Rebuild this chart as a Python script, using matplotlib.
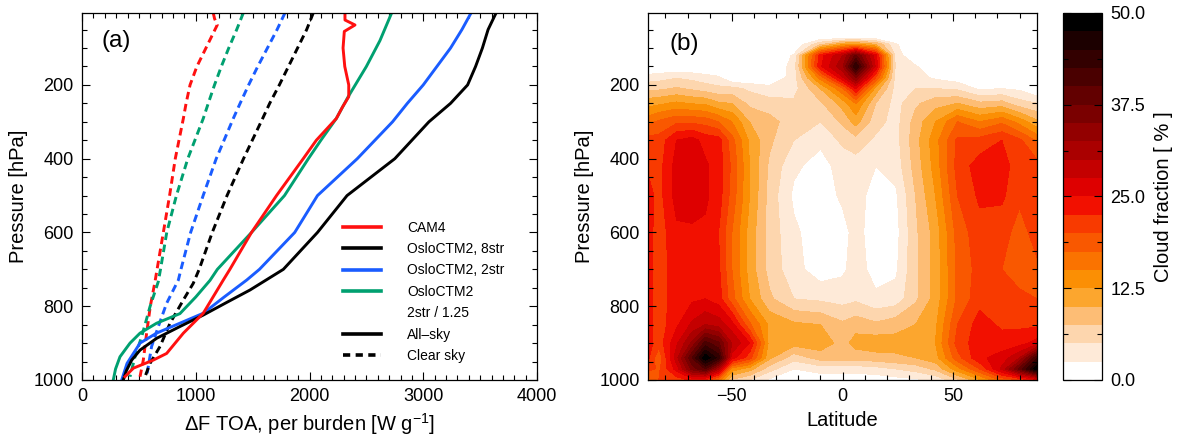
import numpy as np
import matplotlib.pyplot as plt
from matplotlib.lines import Line2D
from matplotlib.ticker import MultipleLocator, FixedLocator, FormatStrFormatter

plt.rcParams['font.family'] = ['Liberation Sans', 'DejaVu Sans']
plt.rcParams['mathtext.fontset'] = 'custom'
plt.rcParams['mathtext.rm'] = 'Liberation Sans'
plt.rcParams['mathtext.it'] = 'Liberation Sans:italic'

# --- panel (a): forcing per burden profiles [W g-1] vs pressure [hPa] ---
p_cam4_all = [5, 24, 37.5, 55, 100, 150, 200, 232, 260, 291, 350, 400, 500, 600, 700, 729, 819, 873, 928, 946, 968, 991]
x_cam4_all = [2312, 2312, 2400, 2306, 2295, 2310, 2345, 2345, 2290, 2236, 2060, 1945, 1710, 1490, 1300, 1242, 1066, 891, 744, 627, 451, 378]

p_8str_all = [5, 50, 100, 150, 200, 250, 300, 400, 500, 600, 700, 756, 790, 824, 855, 887, 919, 946, 975, 1000]
x_8str_all = [3640, 3570, 3520, 3460, 3390, 3240, 3050, 2750, 2330, 2070, 1770, 1477, 1270, 1066, 861, 656, 510, 437, 390, 363]

p_2str_all = [5, 50, 100, 150, 200, 250, 300, 400, 500, 600, 700, 729, 775, 819, 842, 873, 900, 955, 1000]
x_2str_all = [3420, 3340, 3240, 3120, 3000, 2860, 2730, 2420, 2070, 1870, 1560, 1448, 1250, 1066, 891, 655, 510, 396, 349]

p_2str125_all = [5, 80, 150, 232, 291, 350, 400, 500, 600, 700, 730, 775, 820, 846, 873, 900, 937, 970, 1000]
x_2str125_all = [2722, 2619, 2500, 2340, 2236, 2100, 1990, 1780, 1490, 1190, 1125, 1000, 861, 656, 510, 422, 334, 295, 275]

p_cam4_clr = [5, 20, 37.5, 96, 150, 200, 250, 291, 400, 500, 600, 700, 733, 801, 873, 946, 991]
x_cam4_clr = [1154, 1165, 1189, 1096, 1010, 950, 915, 891, 820, 770, 715, 660, 642, 600, 568, 539, 510]

p_8str_clr = [5, 50, 100, 150, 200, 250, 291, 400, 500, 600, 700, 738, 783, 846, 909, 955, 991]
x_8str_clr = [2033, 1975, 1895, 1815, 1735, 1650, 1588, 1420, 1275, 1145, 1030, 978, 891, 774, 686, 598, 554]

p_2str_clr = [5, 50, 100, 150, 200, 250, 291, 400, 500, 600, 700, 729, 792, 855, 909, 991]
x_2str_clr = [1784, 1715, 1630, 1545, 1465, 1390, 1330, 1180, 1065, 955, 870, 847, 744, 671, 612, 568]

p_2str125_clr = [5, 50, 100, 150, 200, 250, 291, 400, 500, 600, 700, 733, 801, 882, 937, 991]
x_2str125_clr = [1418, 1360, 1290, 1225, 1165, 1110, 1066, 930, 830, 745, 690, 671, 598, 525, 466, 422]

legend_labels = ['CAM4', 'OsloCTM2, 8str', 'OsloCTM2, 2str', 'OsloCTM2', '2str / 1.25', 'All\u2012sky', 'Clear sky']

# --- panel (b): zonal mean cloud fraction [%] ---
lat_grid = [-87.9, -83, -75, -68, -62, -56, -50, -42, -33, -22, -10, 0, 6, 15, 24, 33, 42, 52, 62, 72, 80, 87.9]
p_grid = [5, 70, 90, 120, 150, 180, 210, 250, 300, 350, 420, 500, 600, 700, 780, 850, 900, 940, 970, 1000]
# one row per latitude, values at p_grid levels
cloud_by_lat = [
    [0, 0, 0, 0, 0, 3.5, 7, 11.5, 16.5, 21, 22, 23.7, 23.7, 23.7, 23.7, 23.7, 23.7, 23, 21, 16],
    [0, 0, 0, 0, 0, 4, 7, 12, 18, 21, 21.5, 21.5, 21, 21, 21, 21, 21, 18, 19.5, 20],
    [0, 0, 0, 0, 0, 4.8, 7.8, 13, 19.5, 25, 26, 26, 24.5, 24, 24, 24.5, 27, 29, 26, 21],
    [0, 0, 0, 0, 0, 4.3, 7, 12.3, 19.5, 26, 26.5, 26.5, 24.5, 24, 24.5, 28, 33, 40, 36, 23],
    [0, 0, 0, 0, 0, 3.5, 6.3, 12, 19, 24, 25.5, 25.5, 24.5, 24, 25, 30, 41, 49.5, 40, 22],
    [0, 0, 0, 0, 0, 2.8, 5.7, 10.3, 17.5, 23.7, 23.7, 23.7, 22.5, 23, 23.7, 29, 38, 44, 30, 16],
    [0, 0, 0, 0, 0, 0, 5.8, 10, 15, 18.5, 19.5, 19, 17.5, 17.5, 18.5, 26, 30, 26, 14, 7],
    [0, 0, 0, 0, 0, 0, 4.5, 6.8, 10, 12, 12.5, 12.5, 11.5, 11.5, 12.5, 18, 25, 21, 11, 5],
    [0, 0, 0, 0, 0, 0, 3.5, 6, 8.5, 8, 7, 6.5, 6.5, 6.5, 8, 12, 11.5, 10.5, 6, 2],
    [0, 0, 0, 2.8, 3.5, 3.7, 4, 5.5, 6, 5, 3, 2, 3, 3.5, 5, 10.5, 11, 6, 2.5, 0.5],
    [0, 0, 7, 24, 24.5, 16, 10, 7, 5, 3, 1.5, 1, 1, 1, 4.5, 10, 11.5, 8.5, 3.5, 1],
    [0, 0, 12, 30, 32, 27, 17, 11, 8, 5.5, 3.5, 3, 1.5, 2, 4, 8, 9, 8.5, 3.5, 1],
    [0, 0, 13, 38, 45, 35, 25, 15, 11, 6.5, 3.7, 3.5, 3.5, 3.7, 4.5, 9, 11, 8.5, 3.5, 1],
    [0, 0, 10, 26, 27, 20, 11.5, 7.5, 6, 4.5, 2.5, 1.5, 1, 1.5, 3, 8, 11.5, 9, 4, 1],
    [0, 0, 2.8, 4, 4.5, 4, 4, 4, 4, 4, 3.5, 2, 1.5, 2, 3.5, 9, 11, 9.5, 5, 1.5],
    [0, 0, 0, 0, 2.8, 3.5, 5, 7, 8.5, 9, 8.5, 7.5, 7, 7, 7, 10, 11.5, 10, 6, 2],
    [0, 0, 0, 0, 0, 2, 5, 9, 12.5, 14, 13.5, 12.5, 11, 11, 11, 12, 12.5, 11.5, 8, 3],
    [0, 0, 0, 0, 0, 1, 4.5, 10, 17.5, 20.5, 21, 20, 18.5, 18, 18, 20, 21, 19, 14, 7],
    [0, 0, 0, 0, 0, 0, 2, 8, 15, 21, 23.7, 23, 21.5, 21, 21.5, 23.7, 24, 24.5, 20, 12],
    [0, 0, 0, 0, 0, 0, 2.5, 8.5, 17, 22.5, 23.7, 23, 21, 20, 20.5, 22, 23.7, 26, 28, 18],
    [0, 0, 0, 0, 0, 0, 2, 6, 14, 20.5, 21, 20.5, 19, 19, 20.5, 22, 24, 30, 38, 20],
    [0, 0, 0, 0, 0, 0, 0, 5, 10.5, 17, 21, 21, 21, 19.5, 20, 22, 26, 42, 49.5, 24],
]
cf_levels = np.arange(0, 52.5, 2.5)
cf_colors = ['#ffffff', '#feead8', '#fdd6ae', '#fdbd75', '#fca62e', '#fb8f04', '#fa7300',
             '#f95800', '#f83a00', '#f21000', '#de0000', '#c40000', '#aa0000', '#930000',
             '#7a0000', '#620000', '#4a0000', '#330000', '#1c0000', '#000000']

TICK = 13
LABEL = 14.5

fig = plt.figure(figsize=(11.79, 4.42), dpi=100)
ax1 = fig.add_axes([82/1179, 62/442, 455/1179, 367/442])
ax2 = fig.add_axes([648/1179, 62/442, 389/1179, 367/442])
cax = fig.add_axes([1063/1179, 62/442, 39/1179, 367/442])

def style_axis(ax):
    ax.tick_params(which='both', direction='in', top=True, right=True, labelsize=TICK, pad=6, width=0.8)
    ax.tick_params(which='major', length=6)
    ax.tick_params(which='minor', length=3.3)
    for s in ax.spines.values():
        s.set_linewidth(0.9)

# ---- panel (a) ----
lw = 2.1
dash = (0, (2.6, 1.6))
c_red, c_blk, c_blu, c_grn = '#ff1010', '#000000', '#1a5cff', '#00a070'
ax1.plot(x_cam4_clr, p_cam4_clr, color=c_red, lw=lw, ls=dash)
ax1.plot(x_2str125_clr, p_2str125_clr, color=c_grn, lw=lw, ls=dash)
ax1.plot(x_2str_clr, p_2str_clr, color=c_blu, lw=lw, ls=dash)
ax1.plot(x_8str_clr, p_8str_clr, color=c_blk, lw=lw, ls=dash)
ax1.plot(x_2str125_all, p_2str125_all, color=c_grn, lw=lw)
ax1.plot(x_2str_all, p_2str_all, color=c_blu, lw=lw)
ax1.plot(x_8str_all, p_8str_all, color=c_blk, lw=lw)
ax1.plot(x_cam4_all, p_cam4_all, color=c_red, lw=lw)

ax1.set_xlim(0, 4000)
ax1.set_ylim(1000, 5)
ax1.xaxis.set_major_locator(MultipleLocator(1000))
ax1.xaxis.set_minor_locator(MultipleLocator(100))
ax1.yaxis.set_major_locator(FixedLocator([200, 400, 600, 800, 1000]))
ax1.yaxis.set_minor_locator(MultipleLocator(50))
style_axis(ax1)
ax1.set_xlabel('\u0394F TOA, per burden [W g$^{-1}$]', fontsize=LABEL)
ax1.set_ylabel('Pressure [hPa]', fontsize=LABEL)
ax1.text(0.043, 0.955, '(a)', transform=ax1.transAxes, fontsize=17.5, va='top', ha='left')

handles = [Line2D([], [], color=c_red, lw=2.6),
           Line2D([], [], color=c_blk, lw=2.6),
           Line2D([], [], color=c_blu, lw=2.6),
           Line2D([], [], color=c_grn, lw=2.6),
           Line2D([], [], color='none'),
           Line2D([], [], color=c_blk, lw=2.6),
           Line2D([], [], color=c_blk, lw=2.6, ls=(0, (2.0, 1.5)))]
ax1.legend(handles, legend_labels, loc='upper left', bbox_to_anchor=(0.574, 0.434),
           frameon=False, fontsize=10, handlelength=2.75, handletextpad=1.85,
           labelspacing=0.53, borderpad=0, borderaxespad=0)

# ---- panel (b) ----
cloud = np.array(cloud_by_lat).T
cf = ax2.contourf(lat_grid, p_grid, cloud, levels=cf_levels, colors=cf_colors)
ax2.set_xlim(-87.9, 87.9)
ax2.set_ylim(1000, 5)
ax2.xaxis.set_major_locator(MultipleLocator(50))
ax2.xaxis.set_minor_locator(MultipleLocator(10))
ax2.yaxis.set_major_locator(FixedLocator([200, 400, 600, 800, 1000]))
ax2.yaxis.set_minor_locator(MultipleLocator(50))
style_axis(ax2)
ax2.set_xlabel('Latitude', fontsize=LABEL)
ax2.set_ylabel('Pressure [hPa]', fontsize=LABEL)
ax2.text(0.054, 0.945, '(b)', transform=ax2.transAxes, fontsize=17.5, va='top', ha='left')

cb = fig.colorbar(cf, cax=cax, ticks=[0, 12.5, 25, 37.5, 50])
cb.ax.yaxis.set_major_formatter(FormatStrFormatter('%.1f'))
cb.ax.yaxis.set_minor_locator(MultipleLocator(6.25))
cb.ax.tick_params(which='both', direction='in', left=True, right=True, labelsize=TICK, pad=6, width=0.8)
cb.ax.tick_params(which='major', length=6)
cb.ax.tick_params(which='minor', length=3.3)
cb.outline.set_linewidth(0.9)
cb.set_label('Cloud fraction [ % ]', fontsize=LABEL, labelpad=6)

fig.savefig('out.png', dpi=100)
